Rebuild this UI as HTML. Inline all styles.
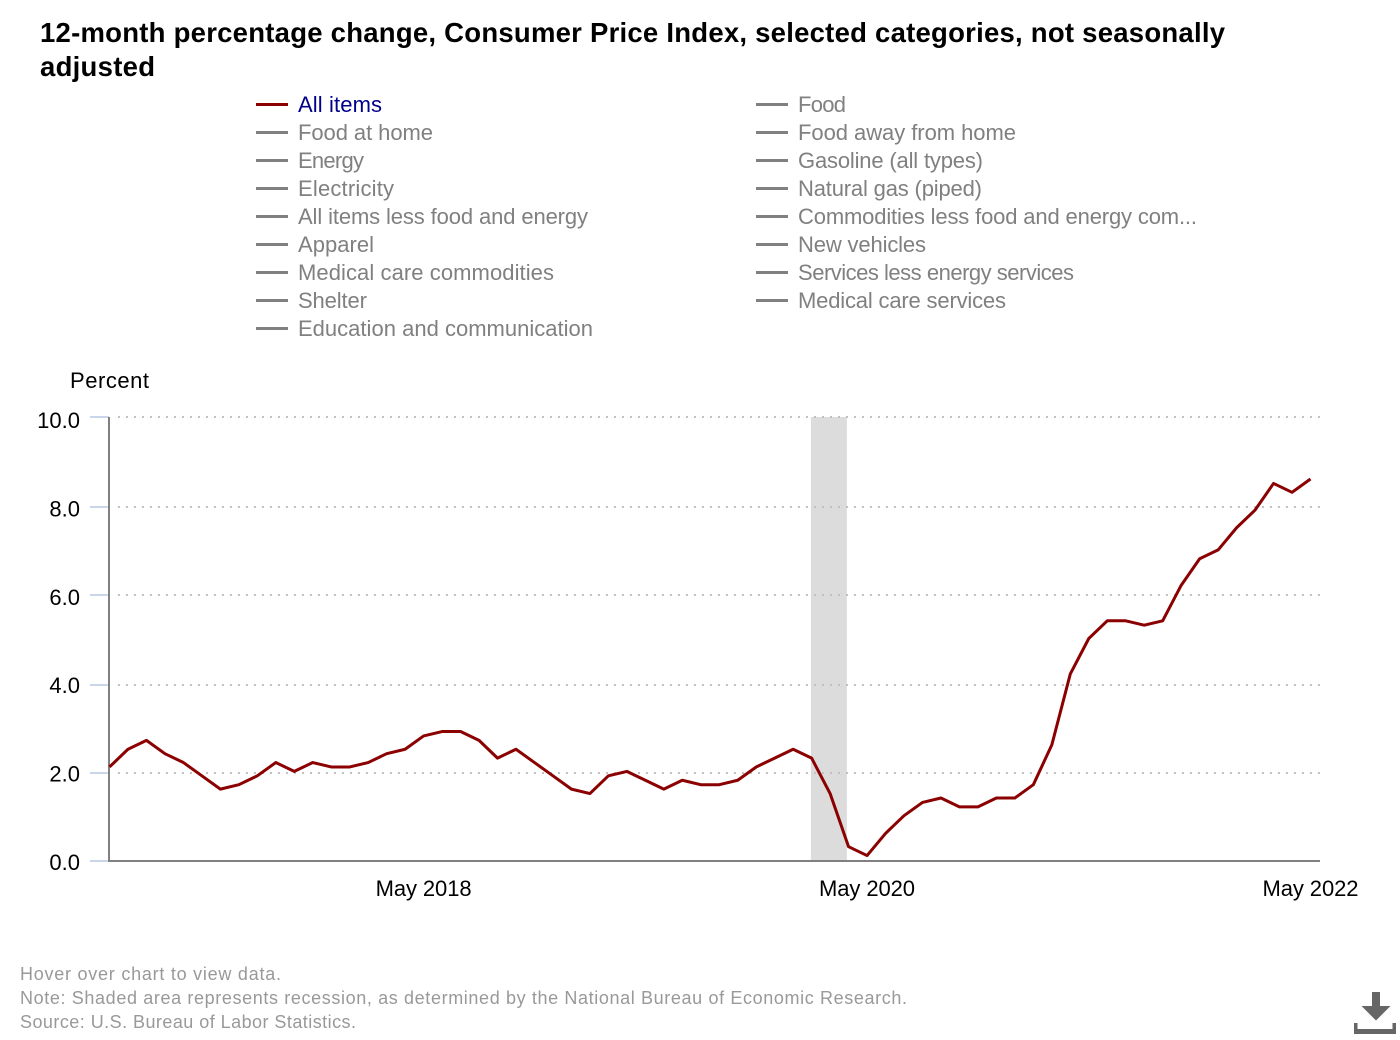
<!DOCTYPE html>
<html lang="en">
<head>
<meta charset="utf-8">
<title>12-month percentage change, Consumer Price Index</title>
<style>
html,body{margin:0;padding:0;background:#fff;width:1400px;height:1040px;overflow:hidden}
svg{display:block}
text{font-family:"Liberation Sans",sans-serif}
.title{font-size:27.5px;font-weight:bold;fill:#000}
.leg{font-size:22px;fill:#808080}
.foot{font-size:18px;fill:#999}
.axis{font-size:22px;fill:#000}
</style>
</head>
<body>
<svg id="root" width="1400" height="1040" viewBox="0 0 1400 1040" xmlns="http://www.w3.org/2000/svg">
  <text class="title" x="40" y="42" textLength="1185">12-month percentage change, Consumer Price Index, selected categories, not seasonally</text>
  <text class="title" x="40" y="76" textLength="115">adjusted</text>

  <g>
    <g><rect x="256" y="103" width="32" height="3" fill="#8b0000"/><text class="leg" style="fill:#00008b" x="298" y="112" textLength="84">All items</text></g>
    <g><rect x="256" y="131" width="32" height="3" fill="#808080"/><text class="leg" x="298" y="140" textLength="135">Food at home</text></g>
    <g><rect x="256" y="159" width="32" height="3" fill="#808080"/><text class="leg" x="298" y="168" textLength="66">Energy</text></g>
    <g><rect x="256" y="187" width="32" height="3" fill="#808080"/><text class="leg" x="298" y="196" textLength="96">Electricity</text></g>
    <g><rect x="256" y="215" width="32" height="3" fill="#808080"/><text class="leg" x="298" y="224" textLength="290">All items less food and energy</text></g>
    <g><rect x="256" y="243" width="32" height="3" fill="#808080"/><text class="leg" x="298" y="252" textLength="76">Apparel</text></g>
    <g><rect x="256" y="271" width="32" height="3" fill="#808080"/><text class="leg" x="298" y="280" textLength="256">Medical care commodities</text></g>
    <g><rect x="256" y="299" width="32" height="3" fill="#808080"/><text class="leg" x="298" y="308" textLength="69">Shelter</text></g>
    <g><rect x="256" y="327" width="32" height="3" fill="#808080"/><text class="leg" x="298" y="336" textLength="295">Education and communication</text></g>

    <g><rect x="756" y="103" width="32" height="3" fill="#808080"/><text class="leg" x="798" y="112" textLength="48">Food</text></g>
    <g><rect x="756" y="131" width="32" height="3" fill="#808080"/><text class="leg" x="798" y="140" textLength="218">Food away from home</text></g>
    <g><rect x="756" y="159" width="32" height="3" fill="#808080"/><text class="leg" x="798" y="168" textLength="185">Gasoline (all types)</text></g>
    <g><rect x="756" y="187" width="32" height="3" fill="#808080"/><text class="leg" x="798" y="196" textLength="184">Natural gas (piped)</text></g>
    <g><rect x="756" y="215" width="32" height="3" fill="#808080"/><text class="leg" x="798" y="224" textLength="399">Commodities less food and energy com...</text></g>
    <g><rect x="756" y="243" width="32" height="3" fill="#808080"/><text class="leg" x="798" y="252" textLength="128">New vehicles</text></g>
    <g><rect x="756" y="271" width="32" height="3" fill="#808080"/><text class="leg" x="798" y="280" textLength="276">Services less energy services</text></g>
    <g><rect x="756" y="299" width="32" height="3" fill="#808080"/><text class="leg" x="798" y="308" textLength="208">Medical care services</text></g>
  </g>

  <text class="axis" x="70" y="388" textLength="79">Percent</text>

  <g id="plot"></g>

  <text class="foot" x="20" y="980" textLength="261">Hover over chart to view data.</text>
  <text class="foot" x="20" y="1004" textLength="887">Note: Shaded area represents recession, as determined by the National Bureau of Economic Research.</text>
  <text class="foot" x="20" y="1028" textLength="336">Source: U.S. Bureau of Labor Statistics.</text>

  <g fill="#666">
    <rect x="1372" y="992" width="8" height="14"/>
    <polygon points="1361.5,1006 1390.5,1006 1376,1020.5"/>
    <path d="M1354 1023h3.5v6h35v-6h3.5v11h-42z"/>
  </g>
</svg>
<script>
const categories = [
  "Dec 2016",
  "Jan 2017","Feb 2017","Mar 2017","Apr 2017","May 2017","Jun 2017","Jul 2017","Aug 2017","Sep 2017","Oct 2017","Nov 2017","Dec 2017",
  "Jan 2018","Feb 2018","Mar 2018","Apr 2018","May 2018","Jun 2018","Jul 2018","Aug 2018","Sep 2018","Oct 2018","Nov 2018","Dec 2018",
  "Jan 2019","Feb 2019","Mar 2019","Apr 2019","May 2019","Jun 2019","Jul 2019","Aug 2019","Sep 2019","Oct 2019","Nov 2019","Dec 2019",
  "Jan 2020","Feb 2020","Mar 2020","Apr 2020","May 2020","Jun 2020","Jul 2020","Aug 2020","Sep 2020","Oct 2020","Nov 2020","Dec 2020",
  "Jan 2021","Feb 2021","Mar 2021","Apr 2021","May 2021","Jun 2021","Jul 2021","Aug 2021","Sep 2021","Oct 2021","Nov 2021","Dec 2021",
  "Jan 2022","Feb 2022","Mar 2022","Apr 2022","May 2022"
];
const allItems = [
  2.1,
  2.5,2.7,2.4,2.2,1.9,1.6,1.7,1.9,2.2,2.0,2.2,2.1,
  2.1,2.2,2.4,2.5,2.8,2.9,2.9,2.7,2.3,2.5,2.2,1.9,
  1.6,1.5,1.9,2.0,1.8,1.6,1.8,1.7,1.7,1.8,2.1,2.3,
  2.5,2.3,1.5,0.3,0.1,0.6,1.0,1.3,1.4,1.2,1.2,1.4,
  1.4,1.7,2.6,4.2,5.0,5.4,5.4,5.3,5.4,6.2,6.8,7.0,
  7.5,7.9,8.5,8.3,8.6
];
const yTicks = [0, 2, 4, 6, 8, 10];
const xTickLabels = ["May 2018", "May 2020", "May 2022"];
const recessionStart = "Feb 2020";
const recessionEnd = "Apr 2020";

const NS = "http://www.w3.org/2000/svg";
const plot = document.getElementById("plot");
const xScale = i => 109.5 + i * (1310 - 109) / (categories.length - 1);
const yScale = v => 860 - v * 44.3;
const gridScale = v => 2 * Math.ceil((861 - v * 44.4 - 1) / 2) + 1;
const labelScale = v => 870 - v * 44.2;

function make(tag, attrs, parent) {
  const el = document.createElementNS(NS, tag);
  for (const k in attrs) el.setAttribute(k, attrs[k]);
  (parent || plot).appendChild(el);
  return el;
}

const band = make("rect", {
  x: xScale(categories.indexOf(recessionStart)) - 0.7,
  y: yScale(10),
  width: xScale(categories.indexOf(recessionEnd)) - xScale(categories.indexOf(recessionStart)) - 1,
  height: yScale(0) - yScale(10),
  fill: "#dcdcdc"
});



yTicks.forEach(v => {
  const gy = gridScale(v);
  if (v !== 0) {
    const grid = make("line", {
      x1: 118, x2: 1320, y1: gy, y2: gy,
      stroke: "#c0c0c0", "stroke-width": 2, "stroke-dasharray": "2 6"
    });
    
    
  }
  const tick = make("line", {
    x1: 90, x2: 109, y1: gy, y2: gy,
    stroke: "#ccd6eb", "stroke-width": 2
  });
  
  
  const label = make("text", {
    x: 80, y: labelScale(v), "text-anchor": "end", "class": "axis"
  });
  
  
  label.textContent = v.toFixed(1);
});

const yAxis = make("line", {
  x1: 109, x2: 109, y1: gridScale(10), y2: gridScale(0) + 1,
  stroke: "#808080", "stroke-width": 2
});



const xAxis = make("line", {
  x1: 110, x2: 1320, y1: gridScale(0), y2: gridScale(0),
  stroke: "#808080", "stroke-width": 2
});



xTickLabels.forEach(name => {
  const label = make("text", {
    x: xScale(categories.indexOf(name)), y: 896, "text-anchor": "middle", "class": "axis",
    textLength: 96
  });
  
  
  label.textContent = name;
});

const series = make("polyline", {
  points: allItems.map((v, i) => xScale(i).toFixed(2) + "," + yScale(v).toFixed(2)).join(" "),
  fill: "none", stroke: "#8b0000", "stroke-width": 3, "stroke-linejoin": "round"
});


</script>
</body>
</html>
